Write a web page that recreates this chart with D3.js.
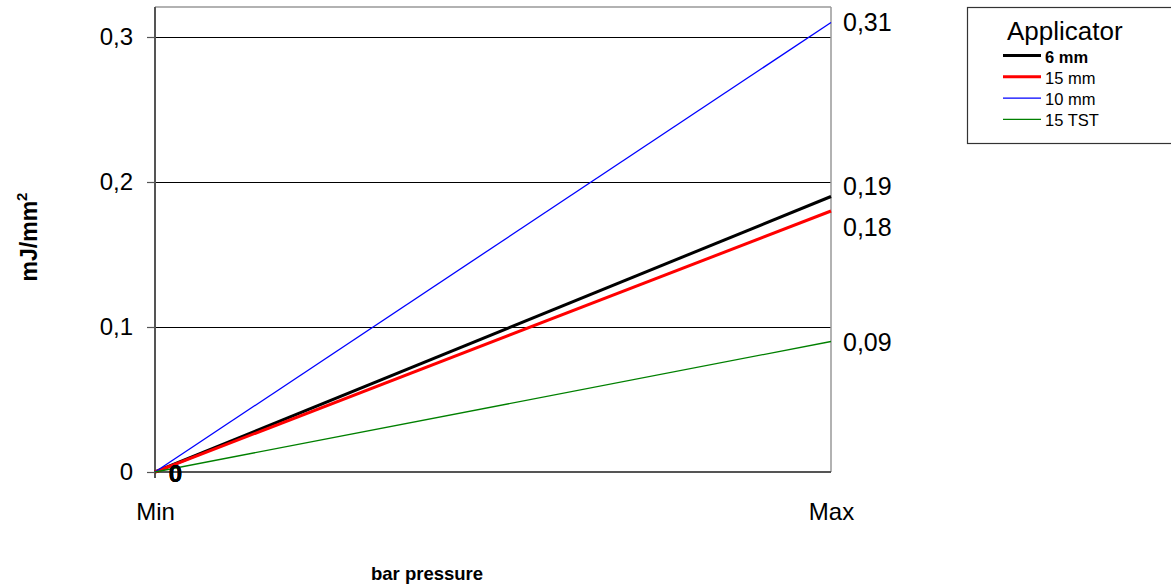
<!DOCTYPE html>
<html><head><meta charset="utf-8">
<script src="https://cdn.jsdelivr.net/npm/d3@7"></script>
<style>body{margin:0;background:#fff;}svg{display:block;font-family:Arial,"Liberation Sans",sans-serif;}</style>
</head><body>
<svg id="c" width="1171" height="588"></svg>
<script>
const categories = ["Min", "Max"];
const seriesNames = ["6 mm", "15 mm", "10 mm", "15 TST"];
const s6mm = [0, 0.19];
const s15mm = [0, 0.18];
const s10mm = [0, 0.31];
const s15tst = [0, 0.09];
const yTicks = [0, 0.1, 0.2, 0.3];
const yTickLabels = ["0", "0,1", "0,2", "0,3"];

const series = [
  {name: seriesNames[0], values: s6mm, color: "#000000", width: 3, bold: true, labelDy: -11},
  {name: seriesNames[1], values: s15mm, color: "#ff0000", width: 3, bold: false, labelDy: 15.5},
  {name: seriesNames[2], values: s10mm, color: "#0000ff", width: 1.3, bold: false, labelDy: -1},
  {name: seriesNames[3], values: s15tst, color: "#008000", width: 1.3, bold: false, labelDy: 0}
];

const FONT = "Arial, Liberation Sans, sans-serif";
const svg = d3.select("#c");
const L = 155, R = 831, T = 7, B = 472;
const x = d3.scalePoint().domain(categories).range([L, R]);
const y = d3.scaleLinear().domain([0, 0.3]).range([B, B - 0.3 * 1450]);

// gridlines
svg.append("g").selectAll("line").data(yTicks.filter(d => d > 0)).join("line")
  .attr("x1", L).attr("x2", R).attr("y1", d => Math.round(y(d)) + 0.5).attr("y2", d => Math.round(y(d)) + 0.5)
  .attr("stroke", "#000").attr("stroke-width", 1);

// frame top/right
svg.append("line").attr("x1", L).attr("x2", R).attr("y1", T).attr("y2", T).attr("stroke", "#999").attr("stroke-width", 1.5);
svg.append("line").attr("x1", R).attr("x2", R).attr("y1", T).attr("y2", B).attr("stroke", "#999").attr("stroke-width", 1.5);

// y axis
const yAxis = d3.axisLeft(y).tickValues(yTicks).tickSize(8).tickPadding(14).tickFormat((d, i) => yTickLabels[i]);
const gy = svg.append("g").attr("transform", `translate(${L},0)`).call(yAxis);
gy.select(".domain").remove();
gy.selectAll(".tick line").attr("stroke", "#555").attr("stroke-width", 1.2);
gy.selectAll(".tick text").attr("font-size", 24).attr("fill", "#000").attr("font-family", FONT);
svg.append("line").attr("x1", L).attr("x2", L).attr("y1", T).attr("y2", B + 6).attr("stroke", "#555").attr("stroke-width", 2);

// x axis
const xAxis = d3.axisBottom(x).tickSize(0);
const gx = svg.append("g").attr("transform", `translate(0,${B})`).call(xAxis);
gx.select(".domain").remove();
gx.selectAll(".tick text").attr("font-size", 24).attr("fill", "#000").attr("font-family", FONT)
  .attr("y", 48).attr("dy", 0);
svg.append("line").attr("x1", L).attr("x2", R).attr("y1", B).attr("y2", B).attr("stroke", "#555").attr("stroke-width", 2);

// lines
const line = d3.line().x((d, i) => x(categories[i])).y(d => y(d));
svg.append("g").selectAll("path").data(series).join("path")
  .attr("d", d => line(d.values)).attr("fill", "none")
  .attr("stroke", d => d.color).attr("stroke-width", d => d.width);

// end labels
svg.append("g").selectAll("text").data(series).join("text")
  .attr("x", R + 12).attr("y", d => y(d.values[1]) + d.labelDy)
  .attr("dominant-baseline", "central").attr("font-size", 25)
  .text(d => String(d.values[1]).replace(".", ","));

// start labels (0)
svg.append("g").selectAll("text").data(series).join("text")
  .attr("x", x(categories[0]) + 20.5).attr("y", d => y(d.values[0]) + 1)
  .attr("text-anchor", "middle").attr("dominant-baseline", "central")
  .attr("font-size", 24).attr("font-weight", "bold")
  .text(d => String(d.values[0]));

// axis titles
svg.append("text").attr("transform", "translate(37,237) rotate(-90)")
  .attr("text-anchor", "middle").attr("font-size", 23).attr("font-weight", "bold")
  .html('mJ/mm<tspan dy="-10" font-size="15">2</tspan>');
svg.append("text").attr("x", 427).attr("y", 580).attr("text-anchor", "middle")
  .attr("font-size", 18.5).attr("font-weight", "bold").text("bar pressure");

// legend
const lg = svg.append("g");
lg.append("rect").attr("x", 967.5).attr("y", 7.5).attr("width", 210).attr("height", 136)
  .attr("fill", "#fff").attr("stroke", "#333").attr("stroke-width", 1.2);
lg.append("text").attr("x", 1007).attr("y", 40).attr("font-size", 26).text("Applicator");
const rows = lg.selectAll("g.row").data(series).join("g").attr("class", "row")
  .attr("transform", (d, i) => `translate(0,${55.5 + i * 21.3})`);
rows.append("line").attr("x1", 1003).attr("x2", 1041).attr("y1", 0).attr("y2", 0)
  .attr("stroke", d => d.color).attr("stroke-width", d => d.width);
rows.append("text").attr("x", 1045).attr("y", 1).attr("dominant-baseline", "central")
  .attr("font-size", 16.5).attr("font-weight", d => d.bold ? "bold" : "normal").text(d => d.name);
</script>
</body></html>
